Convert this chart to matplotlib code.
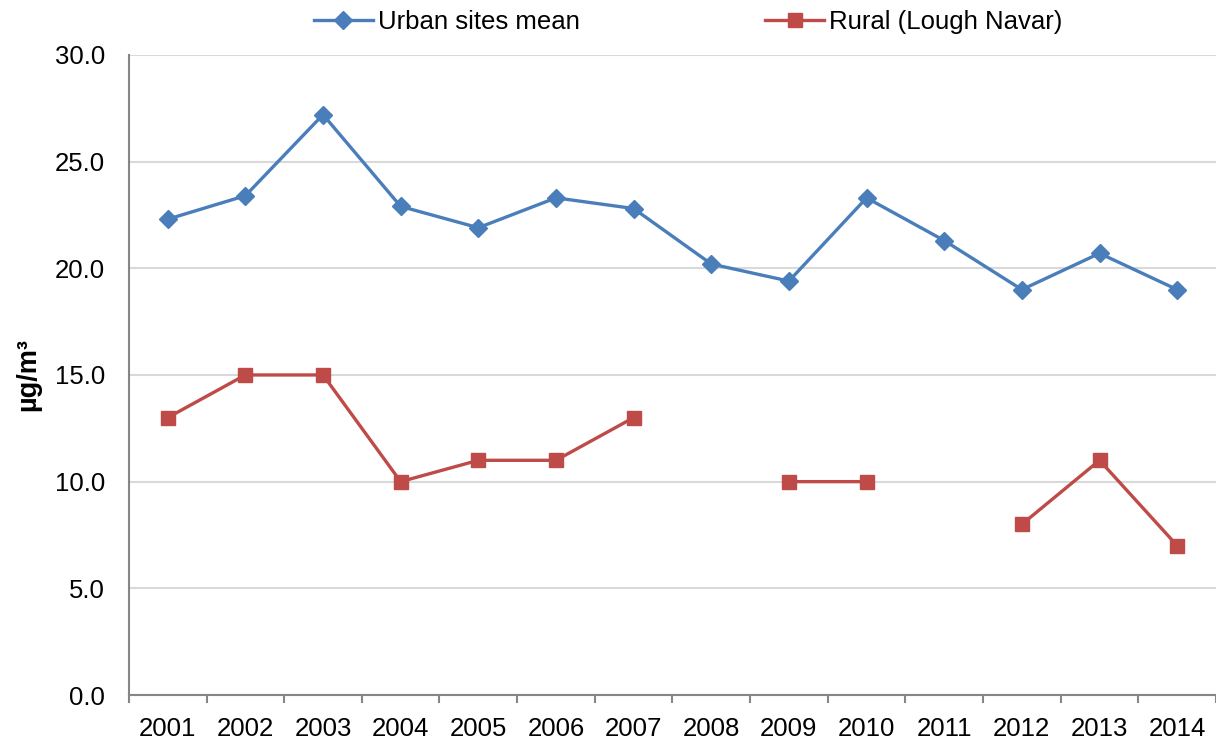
import matplotlib.pyplot as plt
import numpy as np

plt.rcParams['font.family'] = ['Liberation Sans', 'DejaVu Sans']

# Data
years = ['2001', '2002', '2003', '2004', '2005', '2006', '2007',
         '2008', '2009', '2010', '2011', '2012', '2013', '2014']
urban = [22.3, 23.4, 27.2, 22.9, 21.9, 23.3, 22.8,
         20.2, 19.4, 23.3, 21.3, 19.0, 20.7, 19.0]
rural = [13, 15, 15, 10, 11, 11, 13,
         np.nan, 10, 10, np.nan, 8, 11, 7]
yticks = [0, 5, 10, 15, 20, 25, 30]

blue = '#4a7ebb'
red = '#be4b48'
axis_grey = '#868686'

fig = plt.figure(figsize=(12.16, 7.40), dpi=100)
ax = fig.add_axes([0.106, 0.0608, 0.894, 0.865])

x = np.arange(len(years))
ax.plot(x, urban, color=blue, lw=2.4, marker='D', markersize=9.5,
        label='Urban sites mean', zorder=3)
ax.plot(x, rural, color=red, lw=2.4, marker='s', markersize=10.5,
        label='Rural (Lough Navar)', zorder=3)

ax.set_xlim(-0.5, len(years) - 0.5)
ax.set_ylim(0, 30)
ax.set_yticks(yticks)
ax.set_yticklabels([f'{v:.1f}' for v in yticks])
ax.set_xticks(x)
ax.set_xticklabels(years)
ax.set_xticks(np.arange(len(years) + 1) - 0.5, minor=True)

ax.grid(axis='y', color='#d9d9d9', lw=1.5, zorder=0)
ax.set_axisbelow(True)
for s in ['top', 'right']:
    ax.spines[s].set_visible(False)
for s in ['left', 'bottom']:
    ax.spines[s].set_color(axis_grey)
    ax.spines[s].set_linewidth(1.5)

ax.tick_params(axis='y', length=0, pad=17, labelsize=18.5)
ax.tick_params(axis='x', which='major', length=0, pad=16, labelsize=18.5)
ax.tick_params(axis='x', which='minor', length=6, width=1.5, color=axis_grey,
               direction='out')

ax.set_ylabel('µg/m³', fontsize=19.5, fontweight='bold', labelpad=10)

fig.legend(loc='center', bbox_to_anchor=(0.566, 0.97), ncol=2, frameon=False,
           fontsize=18.5, handlelength=2.3, handletextpad=0.2, columnspacing=7.2)

fig.savefig('out.png', dpi=100)
